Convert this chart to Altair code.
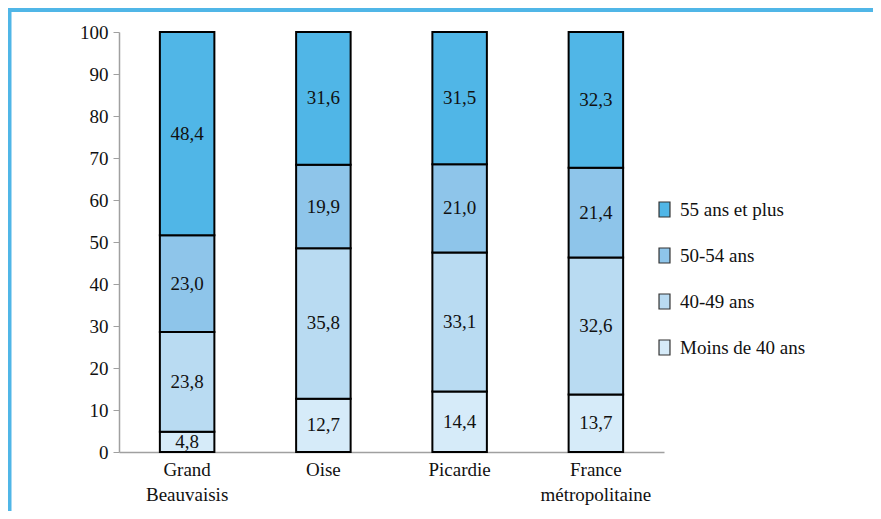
import altair as alt
import pandas as pd

categories = ["Grand Beauvaisis", "Oise", "Picardie", "France métropolitaine"]
groups = ["Moins de 40 ans", "40-49 ans", "50-54 ans", "55 ans et plus"]
moins40 = [4.8, 12.7, 14.4, 13.7]
a40_49 = [23.8, 35.8, 33.1, 32.6]
a50_54 = [23.0, 19.9, 21.0, 21.4]
a55 = [48.4, 31.6, 31.5, 32.3]
colors = ["#d6ebf9", "#b9dbf2", "#8ec5ea", "#50b6e7"]
y_ticks = list(range(0, 101, 10))

rows = []
for gi, (series, g) in enumerate(zip([moins40, a40_49, a50_54, a55], groups)):
    for c, v in zip(categories, series):
        rows.append({"cat": c, "group": g, "value": v, "order": gi})
df = pd.DataFrame(rows)

FONT = "Liberation Serif"

xenc = alt.X(
    "cat:N",
    sort=categories,
    title=None,
    scale=alt.Scale(paddingInner=0.6, paddingOuter=0.3),
    axis=alt.Axis(
        labelAngle=0,
        ticks=False,
        domainColor="#a0a0a0",
        domainWidth=1.5,
        labelFont=FONT,
        labelFontSize=19,
        labelColor="#111111",
        labelPadding=8,
        labelLineHeight=25,
        labelBaseline="top",
        labelExpr="datum.label == 'Grand Beauvaisis' ? ['Grand', 'Beauvaisis'] : datum.label == 'France métropolitaine' ? ['France', 'métropolitaine'] : datum.label",
    ),
)

base = (
    alt.Chart(df)
    .transform_stack(
        stack="value",
        groupby=["cat"],
        as_=["y0", "y1"],
        sort=[alt.SortField("order", order="ascending")],
    )
    .transform_calculate(
        mid="(datum.y0 + datum.y1) / 2",
        lab="replace(format(datum.value, '.1f'), '.', ',')",
    )
)

bars = base.mark_bar(stroke="#000000", strokeWidth=2).encode(
    x=xenc,
    y=alt.Y(
        "y0:Q",
        title=None,
        scale=alt.Scale(domain=[0, 100], nice=False),
        axis=alt.Axis(
            values=y_ticks,
            grid=False,
            tickSize=6,
            tickColor="#a0a0a0",
            domainColor="#a0a0a0",
            domainWidth=1.5,
            labelFont=FONT,
            labelFontSize=19,
            labelColor="#111111",
            labelPadding=5,
        ),
    ),
    y2="y1:Q",
    color=alt.Color(
        "group:N",
        scale=alt.Scale(domain=groups[::-1], range=colors[::-1]),
        title=None,
        legend=alt.Legend(
            orient="none",
            legendX=536,
            legendY=168,
            symbolType="M-0.73,-1 L0.73,-1 L0.73,1 L-0.73,1 Z",
            symbolSize=225,
            symbolStrokeColor="#333333",
            symbolStrokeWidth=1.2,
            labelFont=FONT,
            labelFontSize=19,
            labelColor="#111111",
            labelOffset=6,
            rowPadding=25,
        ),
    ),
)

texts = base.mark_text(font=FONT, fontSize=19, color="#111111", baseline="middle").encode(
    x=alt.X("cat:N", sort=categories),
    y="mid:Q",
    text="lab:N",
)

frame_df = pd.DataFrame({"a": [0]})
top_line = alt.Chart(frame_df).mark_rule(color="#50b6e7", strokeWidth=4).encode(
    x=alt.value(-111), x2=alt.value(760), y=alt.value(-22)
)
left_line = alt.Chart(frame_df).mark_rule(color="#50b6e7", strokeWidth=4).encode(
    x=alt.value(-109.5), y=alt.value(-24), y2=alt.value(490)
)

chart = (
    alt.layer(bars, texts, top_line, left_line)
    .properties(
        width=545,
        height=420,
        autosize=alt.AutoSizeParams(type="none"),
        padding={"left": 111, "top": 24, "right": 209, "bottom": 59},
    )
    .configure_view(stroke="transparent", strokeWidth=0)
)

chart.save("out.html", embed_options={"renderer": "svg", "actions": False})
